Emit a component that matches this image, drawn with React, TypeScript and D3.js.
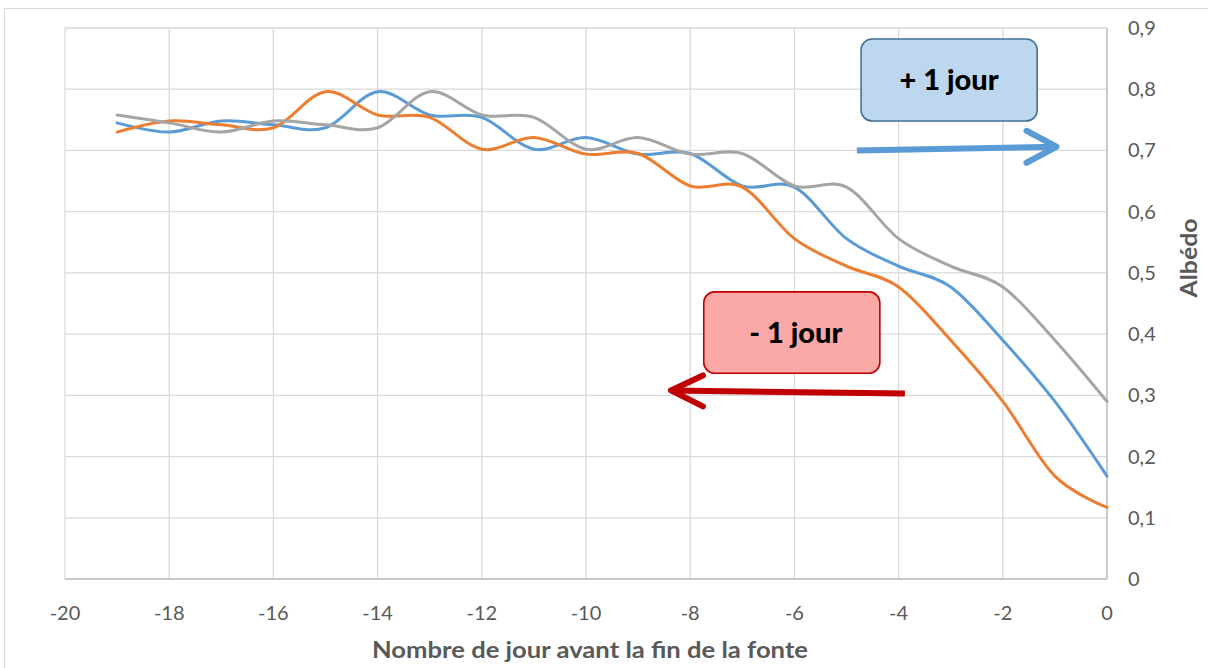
import React from 'react';
import * as d3 from 'd3';

const days = [-19, -18, -17, -16, -15, -14, -13, -12, -11, -10, -9, -8, -7, -6, -5, -4, -3, -2, -1, 0];
const blueSeries = [0.745, 0.730, 0.748, 0.742, 0.737, 0.796, 0.758, 0.754, 0.702, 0.721, 0.694, 0.695, 0.642, 0.640, 0.556, 0.511, 0.477, 0.390, 0.290, 0.168];
const orangeSeries = [0.730, 0.748, 0.742, 0.737, 0.796, 0.758, 0.754, 0.702, 0.721, 0.694, 0.695, 0.642, 0.640, 0.556, 0.511, 0.477, 0.390, 0.290, 0.168, 0.117];
const graySeries = [0.758, 0.745, 0.730, 0.748, 0.742, 0.737, 0.796, 0.758, 0.754, 0.702, 0.721, 0.694, 0.695, 0.642, 0.640, 0.556, 0.511, 0.477, 0.390, 0.290];
const xTicks = [-20, -18, -16, -14, -12, -10, -8, -6, -4, -2, 0];
const yTicks = [0, 0.1, 0.2, 0.3, 0.4, 0.5, 0.6, 0.7, 0.8, 0.9];
const xTitle = 'Nombre de jour avant la fin de la fonte';
const yTitle = 'Albédo';
const plusLabel = '+ 1 jour';
const minusLabel = '- 1 jour';

const FONT = 'Lato, "Open Sans", sans-serif';

export default function App() {
  const W = 1208, H = 668;
  const x = d3.scaleLinear().domain([-20, 0]).range([65, 1107]);
  const y = d3.scaleLinear().domain([0, 0.9]).range([579, 28]);
  const line = d3.line<number>()
    .x((_, i) => x(days[i]))
    .y(d => y(d))
    .curve(d3.curveCatmullRom.alpha(0));
  const fmt = (t: number) => (t === 0 ? '0' : t.toFixed(1).replace('.', ','));

  const series = [
    { v: blueSeries, c: '#5B9BD5' },
    { v: orangeSeries, c: '#ED7D31' },
    { v: graySeries, c: '#A5A5A5' },
  ];

  const bBox = { x0: x(-4.72), x1: x(-1.34), y0: y(0.882), y1: y(0.748) };
  const rBox = { x0: x(-7.74), x1: x(-4.36), y0: y(0.469), y1: y(0.336) };
  const bA = { x0: x(-4.8), y0: y(0.700), x1: x(-0.97), y1: y(0.706) };
  const rA = { x0: x(-3.88), y0: y(0.303), x1: x(-8.37), y1: y(0.308) };

  return (
    <svg width={W} height={H} style={{ position: 'absolute', left: 0, top: 0, background: '#fff' }}>
      <rect x={4.5} y={8.5} width={W + 10} height={H + 10} fill="#fff" stroke="#D9D9D9" strokeWidth={1} />
      {yTicks.map(t => (
        <line key={'gy' + t} x1={x(-20)} x2={x(0)} y1={y(t)} y2={y(t)} stroke="#D9D9D9" strokeWidth={1.3} />
      ))}
      {xTicks.map(t => (
        <line key={'gx' + t} x1={x(t)} x2={x(t)} y1={y(0)} y2={y(0.9)} stroke="#D9D9D9" strokeWidth={1.3} />
      ))}
      <line x1={x(-20)} x2={x(0)} y1={y(0)} y2={y(0)} stroke="#BFBFBF" strokeWidth={1.3} />
      <line x1={x(0)} x2={x(0)} y1={y(0)} y2={y(0.9)} stroke="#BFBFBF" strokeWidth={1.3} />
      {xTicks.map(t => (
        <text key={'tx' + t} x={x(t)} y={620} textAnchor="middle" fontFamily={FONT} fontSize={20} fill="#595959">{t}</text>
      ))}
      {yTicks.map(t => (
        <text key={'ty' + t} x={1128} y={y(t) + 7} textAnchor="start" fontFamily={FONT} fontSize={20} fill="#595959">{fmt(t)}</text>
      ))}
      <text x={590} y={658} textAnchor="middle" fontFamily={FONT} fontSize={22} fontWeight="bold" fill="#595959" textLength={436} lengthAdjust="spacingAndGlyphs">{xTitle}</text>
      <text transform={`translate(1196.5,258) rotate(-90)`} textAnchor="middle" fontFamily={FONT} fontSize={22} fontWeight="bold" fill="#595959" textLength={79} lengthAdjust="spacingAndGlyphs">{yTitle}</text>
      {series.map((s, i) => (
        <path key={'s' + i} d={line(s.v) || ''} fill="none" stroke={s.c} strokeWidth={3} strokeLinecap="round" strokeLinejoin="round" />
      ))}
      <rect x={bBox.x0} y={bBox.y0} width={bBox.x1 - bBox.x0} height={bBox.y1 - bBox.y0} rx={11} fill="#BDD7EE" stroke="#41719C" strokeWidth={1.6} />
      <text x={(bBox.x0 + bBox.x1) / 2} y={(bBox.y0 + bBox.y1) / 2 + 10} textAnchor="middle" fontFamily={FONT} fontSize={29} fontWeight={900} fill="#000">{plusLabel}</text>
      <rect x={rBox.x0} y={rBox.y0} width={rBox.x1 - rBox.x0} height={rBox.y1 - rBox.y0} rx={11} fill="#FBA9A6" stroke="#C00000" strokeWidth={1.6} />
      <text x={(rBox.x0 + rBox.x1) / 2 + 4} y={(rBox.y0 + rBox.y1) / 2 + 10} textAnchor="middle" fontFamily={FONT} fontSize={29} fontWeight={900} fill="#000">{minusLabel}</text>
      <g stroke="#5B9BD5" strokeWidth={6} fill="none" strokeLinecap="round" strokeLinejoin="round">
        <line x1={bA.x0} y1={bA.y0} x2={bA.x1} y2={bA.y1} strokeLinecap="butt" />
        <polyline points={`${bA.x1 - 30},${bA.y1 - 16} ${bA.x1},${bA.y1} ${bA.x1 - 30},${bA.y1 + 16}`} />
      </g>
      <g stroke="#C00000" strokeWidth={6} fill="none" strokeLinecap="round" strokeLinejoin="round">
        <line x1={rA.x0} y1={rA.y0} x2={rA.x1} y2={rA.y1} strokeLinecap="butt" />
        <polyline points={`${rA.x1 + 32},${rA.y1 - 15} ${rA.x1},${rA.y1} ${rA.x1 + 32},${rA.y1 + 16}`} />
      </g>
    </svg>
  );
}
